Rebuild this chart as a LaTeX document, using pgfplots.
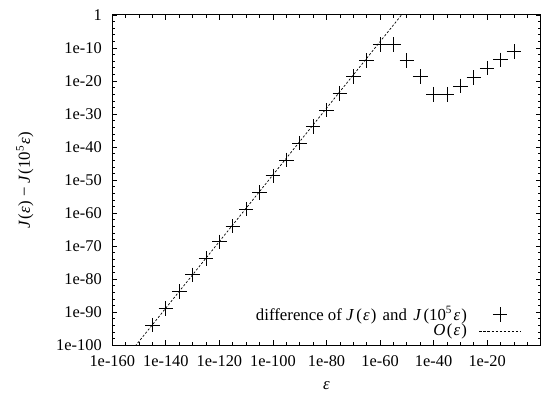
\documentclass[border=0pt]{standalone}
\usepackage{fontspec}
\setmainfont{Liberation Serif}
\usepackage{pgfplots}
\pgfplotsset{compat=1.18}
\pgfplotsset{
  crossleg/.style={legend image code/.code={\draw[##1] plot coordinates {(14.9pt,0pt)};}},
  dashleg/.style={legend image code/.code={\draw[##1] (0pt,0pt) -- (29.8pt,0pt);}},
}
\newcommand{\eps}{\textit{ε}}
\begin{document}
\begin{tikzpicture}
\begin{axis}[name=ax, scale only axis, width=306pt, height=235.9pt,
  xmode=log, ymode=log, xmin=1e-160, xmax=1, ymin=1e-100, ymax=1,
  xtick={1e-160,1e-140,1e-120,1e-100,1e-80,1e-60,1e-40,1e-20,1},
  xticklabels={1e-160,1e-140,1e-120,1e-100,1e-80,1e-60,1e-40,1e-20,{}},
  minor xtick={1e-155,1e-150,1e-145,1e-135,1e-130,1e-125,1e-115,1e-110,1e-105,1e-95,1e-90,1e-85,1e-75,1e-70,1e-65,1e-55,1e-50,1e-45,1e-35,1e-30,1e-25,1e-15,1e-10,1e-5},
  ytick={1e-100,1e-90,1e-80,1e-70,1e-60,1e-50,1e-40,1e-30,1e-20,1e-10,1},
  yticklabels={1e-100,1e-90,1e-80,1e-70,1e-60,1e-50,1e-40,1e-30,1e-20,1e-10,1},
  minor ytick={1e-98,1e-96,1e-94,1e-92,1e-88,1e-86,1e-84,1e-82,1e-78,1e-76,1e-74,1e-72,1e-68,1e-66,1e-64,1e-62,1e-58,1e-56,1e-54,1e-52,1e-48,1e-46,1e-44,1e-42,1e-38,1e-36,1e-34,1e-32,1e-28,1e-26,1e-24,1e-22,1e-18,1e-16,1e-14,1e-12,1e-8,1e-6,1e-4,1e-2},
  major tick length=3.5pt, minor tick length=2pt,
  every tick/.style={black, line width=0.5pt},
  axis line style={line width=0.7pt},
  ticklabel style={font=\fontsize{11.7}{13}\selectfont},
  xticklabel style={yshift=-3.5pt},
  yticklabel style={xshift=-4pt},
  xlabel={\eps}, 
  ylabel={\textit{J}\kern0.6pt(\eps\kern0.4pt) − \textit{J}\kern0.6pt(10\textsuperscript{5}\kern0.5pt\eps\kern0.4pt)},
  label style={font=\fontsize{12}{14}\selectfont},
  xlabel style={at={(axis description cs:0.5,0)}, anchor=center, yshift=-28.6pt},
  ylabel style={at={([xshift=-62.4pt]axis description cs:0,0.5)}, anchor=center},
  legend cell align=right, legend plot pos=right,
  legend style={at={(1,0)}, anchor=south east, xshift=-13.6pt, yshift=4.5pt,
    draw=none, fill=none, inner sep=0pt, column sep=8.6pt, row sep=0.5pt,
    font=\fontsize{12}{14}\selectfont,
    nodes={inner xsep=0pt, inner ysep=0.5pt}},
]
\addplot[only marks, mark=+, mark size=5.2pt, line width=0.6pt, black, crossleg]
  coordinates {
  (1e-145,1.26e-94) (1e-140,1.58e-89) (1e-135,1.58e-84) (1e-130,2.0e-79)
  (1e-125,2.0e-74) (1e-120,2.0e-69) (1e-115,1.26e-64) (1e-110,1.58e-59)
  (1e-105,1.58e-54) (1e-100,2.0e-49) (1e-95,1.26e-44) (1e-90,1.58e-39)
  (1e-85,1.58e-34) (1e-80,1.58e-29) (1e-75,2.0e-24) (1e-70,2.0e-19)
  (1e-65,1.58e-14) (1e-60,1.26e-9) (1e-55,1.26e-9) (1e-50,1.58e-14)
  (1e-45,2.0e-19) (1e-40,1e-24) (1e-35,1e-24) (1e-30,3.16e-22)
  (1e-25,1.26e-19) (1e-20,7.94e-17) (1e-15,2.51e-14) (1e-10,7.94e-12)
  };
\addlegendentry{difference of \textit{J}\kern1.5pt(\kern0.8pt\eps\kern0.8pt)\hspace{1.5pt} and\hspace{1.5pt} \textit{J}\kern1.5pt(10\textsuperscript{5}\kern1pt\eps\kern0.8pt)}
\addplot[black, line width=0.5pt, dash pattern=on 1.6pt off 1.3pt, dashleg]
  coordinates {(1e-160,1.26e-109) (1e-45,1.12e7)};
\addlegendentry{\textit{O}\kern1pt(\kern0.8pt\eps\kern0.8pt)}
\end{axis}
\pgfresetboundingbox
\path[use as bounding box] ([xshift=-80.2pt,yshift=-36.2pt]ax.south west) rectangle ([xshift=0.9pt,yshift=10.7pt]ax.north east);
\end{tikzpicture}
\end{document}
